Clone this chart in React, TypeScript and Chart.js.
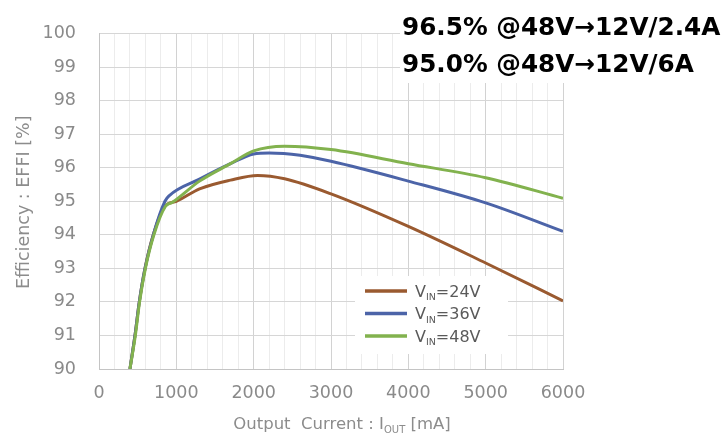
import React, { useEffect, useRef } from "react";
import { Chart, registerables } from "chart.js";

Chart.register(...registerables);

// ---- data ----
const seriesLabels = ["24V", "36V", "48V"];
const seriesColors = ["#9a5a30", "#4c64a8", "#82b24e"];

const iout24 = [400, 465, 521, 595, 702, 850, 1000, 1300, 1700, 2050, 2400, 3000, 4000, 5000, 6000];
const eff24 = [90, 91, 92, 93, 94, 94.85, 95.0, 95.37, 95.63, 95.77, 95.67, 95.22, 94.25, 93.16, 92.03];

const iout36 = [400, 465, 521, 595, 702, 853, 910, 1300, 1700, 2000, 2200, 2600, 3000, 4000, 5000, 6000];
const eff36 = [90, 91, 92, 93, 94, 95.0, 95.17, 95.66, 96.12, 96.41, 96.44, 96.37, 96.19, 95.6, 94.95, 94.1];

const iout48 = [400, 470, 525, 600, 710, 860, 950, 1300, 1700, 2000, 2400, 3000, 4000, 5000, 6000];
const eff48 = [90, 91, 92, 93, 94, 94.85, 94.97, 95.6, 96.12, 96.5, 96.64, 96.54, 96.12, 95.7, 95.09];

const xMin = 0;
const xMax = 6000;
const xMajorStep = 1000;
const xMinorStep = 200;
const yMin = 90;
const yMax = 100;
const yStep = 1;

const headerLines = ["96.5% @48V\u219212V/2.4A", "95.0% @48V\u219212V/6A"];
const xTitleParts = ["Output  Current : I", "OUT", " [mA]"];
const yTitle = "Efficiency : EFFI [%]";

const FONT = '"DejaVu Sans", "Liberation Sans", Arial, sans-serif';

const toPoints = (xs: number[], ys: number[]) => xs.map((x, i) => ({ x, y: ys[i] }));

function drawSubText(
  ctx: CanvasRenderingContext2D,
  parts: string[],
  x: number,
  y: number,
  size: number,
  subSize: number,
  align: "left" | "center"
) {
  const mainFont = `${size}px ${FONT}`;
  const subFont = `${subSize}px ${FONT}`;
  ctx.font = mainFont;
  const w0 = ctx.measureText(parts[0]).width;
  const w2 = ctx.measureText(parts[2]).width;
  ctx.font = subFont;
  const w1 = ctx.measureText(parts[1]).width;
  const total = w0 + w1 + w2;
  let cx = align === "center" ? x - total / 2 : x;
  ctx.textAlign = "left";
  ctx.textBaseline = "alphabetic";
  ctx.font = mainFont;
  ctx.fillText(parts[0], cx, y);
  cx += w0;
  ctx.font = subFont;
  ctx.fillText(parts[1], cx, y + size * 0.22);
  cx += w1;
  ctx.font = mainFont;
  ctx.fillText(parts[2], cx, y);
}

const overlayPlugin = {
  id: "overlay",
  afterDraw(chart: any) {
    const ctx: CanvasRenderingContext2D = chart.ctx;
    const { top, bottom } = chart.chartArea;
    ctx.save();

    // axis titles
    ctx.fillStyle = "#8c8c8c";
    drawSubText(ctx, xTitleParts, 342, 429, 16.5, 10, "center");
    ctx.save();
    ctx.translate(29, (top + bottom) / 2 + 1);
    ctx.rotate(-Math.PI / 2);
    ctx.font = `17.5px ${FONT}`;
    ctx.textAlign = "center";
    ctx.textBaseline = "alphabetic";
    ctx.fillText(yTitle, 0, 0);
    ctx.restore();

    // legend box
    ctx.fillStyle = "#ffffff";
    ctx.fillRect(355, 276, 153, 78);
    const rows = [291, 313.5, 336];
    seriesLabels.forEach((lab, i) => {
      ctx.strokeStyle = seriesColors[i];
      ctx.lineWidth = 3.5;
      ctx.beginPath();
      ctx.moveTo(365, rows[i]);
      ctx.lineTo(407, rows[i]);
      ctx.stroke();
      ctx.fillStyle = "#5a5a5a";
      drawSubText(ctx, ["V", "IN", "=" + lab], 415, rows[i] + 5.5, 16, 9.5, "left");
    });

    // header text on white box
    ctx.fillStyle = "#ffffff";
    ctx.fillRect(400, 0, 327, 83);
    ctx.fillStyle = "#000000";
    ctx.font = `bold 24.7px "DejaVu Sans", sans-serif`;
    ctx.textAlign = "left";
    ctx.textBaseline = "alphabetic";
    ctx.fillText(headerLines[0], 402, 35);
    ctx.fillText(headerLines[1], 402, 71.5);

    ctx.restore();
  },
};

export default function App() {
  const ref = useRef<HTMLCanvasElement | null>(null);

  useEffect(() => {
    if (!ref.current) return;
    const mk = (label: string, xs: number[], ys: number[], i: number, order: number) => ({
      label,
      data: toPoints(xs, ys),
      borderColor: seriesColors[i],
      borderWidth: 3,
      pointRadius: 0,
      cubicInterpolationMode: "monotone",
      fill: false,
      order,
    });
    const chart = new Chart(ref.current, {
      type: "line",
      data: {
        datasets: [
          mk("VIN=24V", iout24, eff24, 0, 2),
          mk("VIN=36V", iout36, eff36, 1, 1),
          mk("VIN=48V", iout48, eff48, 2, 0),
        ],
      },
      options: {
        animation: false,
        responsive: false,
        devicePixelRatio: 1,
        layout: { padding: { top: 14, right: 164, left: 0, bottom: 0 } },
        plugins: {
          legend: { display: false },
          tooltip: { enabled: false },
        },
        scales: {
          x: {
            type: "linear",
            min: xMin,
            max: xMax,
            afterFit: (s: any) => {
              s.height = 71;
            },
            ticks: {
              stepSize: xMinorStep,
              autoSkip: false,
              maxRotation: 0,
              padding: 14,
              color: "#8a8a8a",
              font: { family: FONT, size: 17.5 },
              callback: (v: any) => (Number(v) % xMajorStep === 0 ? String(v) : ""),
            },
            grid: {
              drawTicks: false,
              color: (c: any) =>
                c.tick && c.tick.value % xMajorStep === 0 ? "#d2d2d2" : "#ececec",
              lineWidth: 1,
            },
            border: { color: "#c4c4c4" },
          },
          y: {
            type: "linear",
            min: yMin,
            max: yMax,
            afterFit: (s: any) => {
              s.width = 99;
            },
            ticks: {
              stepSize: yStep,
              padding: 23,
              color: "#8a8a8a",
              font: { family: FONT, size: 17.5 },
            },
            grid: { drawTicks: false, color: "#d6d6d6" },
            border: { color: "#c4c4c4" },
          },
        },
      },
      plugins: [overlayPlugin],
    } as any);
    return () => chart.destroy();
  }, []);

  return (
    <div style={{ position: "fixed", left: 0, top: 0, width: 727, height: 440, background: "#fff" }}>
      <canvas ref={ref} width={727} height={440} style={{ width: 727, height: 440, display: "block" }} />
    </div>
  );
}
